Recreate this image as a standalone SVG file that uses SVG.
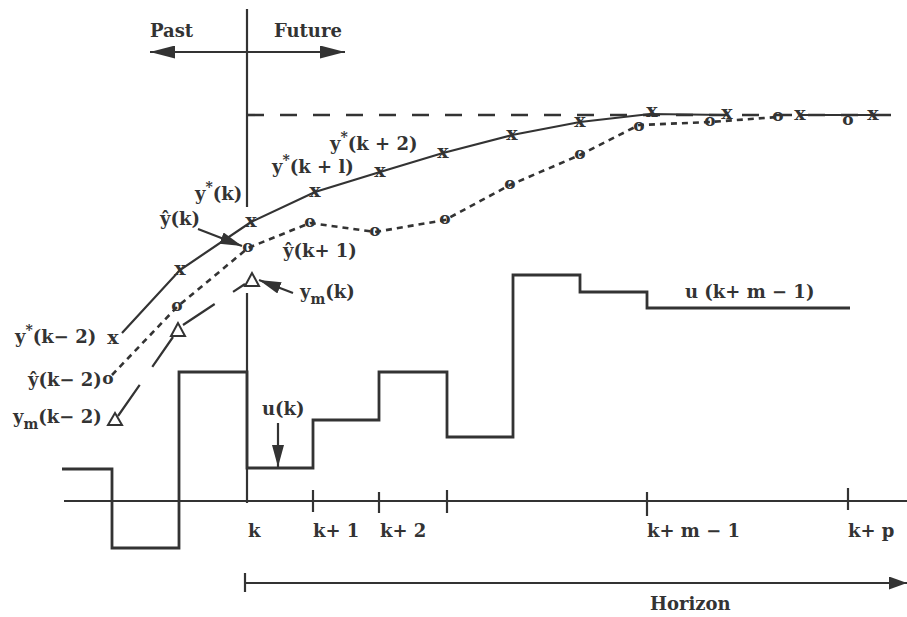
<svg xmlns="http://www.w3.org/2000/svg" width="907" height="617" viewBox="0 0 907 617">
<style>
.t{font-family:"DejaVu Serif","Liberation Serif",serif;font-weight:bold;font-size:18px;fill:#333}
.mk{font-family:"DejaVu Serif","Liberation Serif",serif;font-weight:bold;font-size:19px;fill:#333;text-anchor:middle}
.mo{font-family:"DejaVu Serif","Liberation Serif",serif;font-weight:bold;font-size:17px;fill:#333;text-anchor:middle}
.ln{fill:none;stroke:#333;stroke-width:2.2}
.sig{fill:none;stroke:#333;stroke-width:2.8;stroke-linejoin:miter}
.dot{fill:none;stroke:#333;stroke-width:2.6;stroke-dasharray:6 5}
.long{fill:none;stroke:#333;stroke-width:2.2;stroke-dasharray:38 22}
.set{fill:none;stroke:#333;stroke-width:2.6;stroke-dasharray:17 16}
.tri{fill:#fff;stroke:#333;stroke-width:2}
</style>
<defs>
<marker id="ab" viewBox="0 0 10 10" refX="10" refY="5" markerUnits="userSpaceOnUse" markerWidth="25" markerHeight="13" orient="auto-start-reverse" preserveAspectRatio="none"><path d="M0,0 L10,5 L0,10 z" fill="#333"/></marker>
<marker id="am" viewBox="0 0 10 10" refX="10" refY="5" markerUnits="userSpaceOnUse" markerWidth="22" markerHeight="12" orient="auto" preserveAspectRatio="none"><path d="M0,0 L10,5 L0,10 z" fill="#333"/></marker>
<marker id="ah" viewBox="0 0 10 10" refX="10" refY="5" markerUnits="userSpaceOnUse" markerWidth="18" markerHeight="13" orient="auto" preserveAspectRatio="none"><path d="M0,0 L10,5 L0,10 z" fill="#333"/></marker>
</defs>
<rect width="907" height="617" fill="#fff"/>

<g id="frame">
<line class="ln" x1="247" y1="9" x2="247" y2="207"/>
<line class="ln" x1="247" y1="293" x2="247" y2="503"/>
<line class="ln" x1="150" y1="52" x2="345" y2="52" marker-start="url(#ab)" marker-end="url(#ab)"/>
<text class="t" x="150" y="37">Past</text>
<text class="t" x="274" y="37">Future</text>
<line class="set" x1="247" y1="115" x2="907" y2="115"/>
</g>

<g id="axis">
<line class="ln" x1="64" y1="501" x2="907" y2="501" stroke-width="2.6"/>
<line class="ln" x1="313" y1="490" x2="313" y2="512"/>
<line class="ln" x1="379" y1="492" x2="379" y2="513"/>
<line class="ln" x1="447" y1="490" x2="447" y2="513"/>
<line class="ln" x1="647" y1="492" x2="647" y2="516"/>
<line class="ln" x1="848" y1="488" x2="848" y2="510"/>
<text class="t" x="248" y="537">k</text>
<text class="t" x="313" y="537">k+ 1</text>
<text class="t" x="380" y="537">k+ 2</text>
<text class="t" x="647" y="537">k+ m − 1</text>
<text class="t" x="848" y="537">k+ p</text>
</g>

<g id="horizon">
<line class="ln" x1="245" y1="573" x2="245" y2="592"/>
<line class="ln" x1="245" y1="583" x2="907" y2="583" marker-end="url(#ah)"/>
<text class="t" x="650" y="610">Horizon</text>
</g>

<g id="input-u">
<path class="sig" d="M62,469 H112 V548 H179 V372 H247 V468 H313 V420 H379 V372 H447 V437 H513 V275 H580 V292 H647 V308 H850"/>
<text class="t" x="262" y="415">u(k)</text>
<line class="ln" x1="278" y1="423" x2="278" y2="467" marker-end="url(#am)"/>
<text class="t" x="685" y="298">u (k+ m − 1)</text>
</g>

<g id="setpoint-ystar">
<polyline class="ln" stroke-width="2.4" points="122,333 180,270 251,222 315,192 380,172 443,153 512,135 580,122 650,114 727,115"/>
<line class="ln" stroke-width="2.4" x1="800" y1="115" x2="873" y2="115"/>
<text class="mk" x="113" y="344">x</text>
<text class="mk" x="180" y="275">x</text>
<text class="mk" x="251" y="227">x</text>
<text class="mk" x="315" y="197">x</text>
<text class="mk" x="380" y="177">x</text>
<text class="mk" x="443" y="158">x</text>
<text class="mk" x="512" y="140">x</text>
<text class="mk" x="580" y="127">x</text>
<text class="mk" x="652" y="117">x</text>
<text class="mk" x="727" y="119">x</text>
<text class="mk" x="800" y="120">x</text>
<text class="mk" x="873" y="120">x</text>
<text class="t" x="15" y="343">y<tspan dy="-8" font-size="14">*</tspan><tspan dy="8">(k− 2)</tspan></text>
<text class="t" x="195" y="200">y<tspan dy="-8" font-size="14">*</tspan><tspan dy="8">(k)</tspan></text>
<text class="t" x="272" y="173">y<tspan dy="-8" font-size="14">*</tspan><tspan dy="8">(k + l)</tspan></text>
<text class="t" x="330" y="150">y<tspan dy="-8" font-size="14">*</tspan><tspan dy="8">(k + 2)</tspan></text>
</g>

<g id="predicted-yhat">
<polyline class="dot" points="112,375 177,307 248,248 310,223 375,232 445,220 510,185 580,155 639,125 710,122 778,117"/>
<text class="mo" x="108" y="384">o</text>
<text class="mo" x="177" y="311">o</text>
<text class="mo" x="248" y="252">o</text>
<text class="mo" x="310" y="227">o</text>
<text class="mo" x="375" y="236">o</text>
<text class="mo" x="445" y="224">o</text>
<text class="mo" x="510" y="189">o</text>
<text class="mo" x="580" y="159">o</text>
<text class="mo" x="639" y="131">o</text>
<text class="mo" x="710" y="126">o</text>
<text class="mo" x="778" y="121">o</text>
<text class="mo" x="848" y="125">o</text>
<text class="t" x="28" y="386">ŷ(k− 2)</text>
<text class="t" x="160" y="225">ŷ(k)</text>
<line class="ln" x1="198" y1="229" x2="242" y2="246" marker-end="url(#am)"/>
<text class="t" x="283" y="257">ŷ(k+ 1)</text>
</g>

<g id="measured-ym">
<path class="long" d="M118,416 L173,337"/>
<path class="long" d="M183,325 L245,284"/>
<polygon class="tri" points="115,413 108,425 122,425"/>
<polygon class="tri" points="178,323 171,336 185,336"/>
<polygon class="tri" points="252,273 245,286 259,286"/>
<text class="t" x="13" y="423">y<tspan dy="6" font-size="14">m</tspan><tspan dy="-6">(k− 2)</tspan></text>
<text class="t" x="300" y="298">y<tspan dy="6" font-size="14">m</tspan><tspan dy="-6">(k)</tspan></text>
<line class="ln" x1="293" y1="293" x2="259" y2="280" marker-end="url(#am)"/>
</g>
</svg>
